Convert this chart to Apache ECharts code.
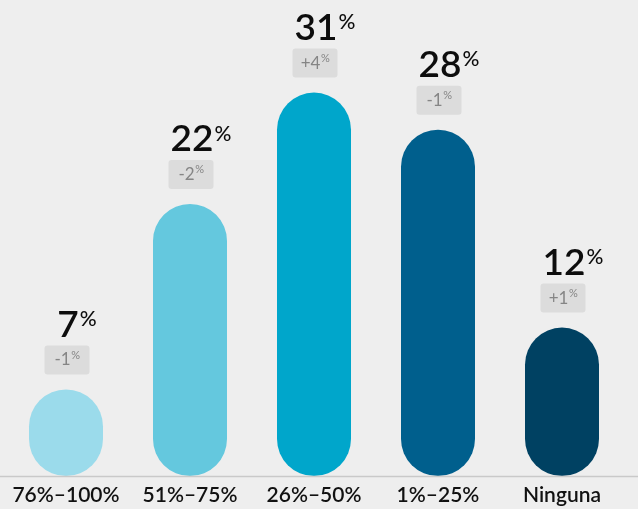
<!DOCTYPE html>
<html>
<head>
<meta charset="utf-8">
<script src="https://cdn.jsdelivr.net/npm/echarts@6/dist/echarts.min.js"></script>
<style>
html,body{margin:0;padding:0;background:#eeeeee;}
#c{width:638px;height:509px;}
</style>
</head>
<body>
<div id="c"></div>
<script>
var categories = ['76%\u2013100%', '51%\u201375%', '26%\u201350%', '1%\u201325%', 'Ninguna'];
var values = [7, 22, 31, 28, 12];
var changes = [-1, -2, 4, -1, 1];
var barColors = ['#9bdbeb', '#64c8de', '#00a6cb', '#005f8d', '#004162'];

var FONT = 'Lato, "Open Sans", sans-serif';
var mctx = document.createElement('canvas').getContext('2d');
function tw(text, font) { mctx.font = font; return mctx.measureText(text).width; }

var chart = echarts.init(document.getElementById('c'), null, {renderer: 'canvas'});

function renderLabel(params, api) {
  var i = api.value(0);
  var v = api.value(1);
  var ch = changes[i];
  var p = api.coord([i, v]);
  var cx = p[0], top = p[1];
  var numStr = String(v);
  var numFont = '600 37px ' + FONT;
  var nw = tw(numStr, numFont);
  var chStr = (ch > 0 ? '+' : '-') + Math.abs(ch);
  var chFont = '17px ' + FONT;
  var pctFont = '11px ' + FONT;
  var cw = tw(chStr, chFont);
  var pw = tw('%', pctFont);
  var chStart = cx + 1 - (cw + pw) / 2;
  return {
    type: 'group',
    children: [
      {type: 'text', x: cx + 2, y: top - 64.5,
        style: {text: numStr, fontSize: 37, fontWeight: 600, fontFamily: FONT, fill: '#0d0d0d', align: 'center', verticalAlign: 'middle'}},
      {type: 'text', x: cx + 2 + nw / 2 + 1, y: top - 70,
        style: {text: '%', fontSize: 21, fontWeight: 500, fontFamily: FONT, fill: '#0d0d0d', align: 'left', verticalAlign: 'middle'}},
      {type: 'rect', shape: {x: cx + 1 - 22.5, y: top - 44, width: 45, height: 29, r: 3},
        style: {fill: '#dcdcdc'}},
      {type: 'text', x: chStart, y: top - 29.5,
        style: {text: chStr, fontSize: 17, fontFamily: FONT, fill: '#858585', align: 'left', verticalAlign: 'middle'}},
      {type: 'text', x: chStart + cw + 0.5, y: top - 34,
        style: {text: '%', fontSize: 11, fontFamily: FONT, fill: '#858585', align: 'left', verticalAlign: 'middle'}}
    ]
  };
}

var option = {
  backgroundColor: '#eeeeee',
  animation: false,
  grid: {left: 4, right: 14, top: 6, bottom: 33},
  xAxis: {
    type: 'category',
    data: categories,
    axisLine: {show: false},
    axisTick: {show: false},
    axisLabel: {interval: 0, fontSize: 21, fontWeight: 600, fontFamily: FONT, color: '#111111', margin: 9}
  },
  yAxis: {
    type: 'value', min: 0, max: 38,
    show: false,
    splitLine: {show: false}
  },
  graphic: [{
    type: 'line', z: 100,
    shape: {x1: 0, y1: 476.5, x2: 638, y2: 476.5},
    style: {stroke: '#c9c9c9', lineWidth: 1.5}
  }],
  series: [
    {
      type: 'bar',
      barWidth: 74,
      data: values.map(function (v, i) {
        return {value: v, itemStyle: {color: barColors[i]}};
      }),
      itemStyle: {borderRadius: 37}
    },
    {
      type: 'custom',
      data: values.map(function (v, i) { return [i, v]; }),
      encode: {x: 0, y: 1},
      renderItem: renderLabel,
      z: 10
    }
  ]
};
chart.setOption(option);
</script>
</body>
</html>
